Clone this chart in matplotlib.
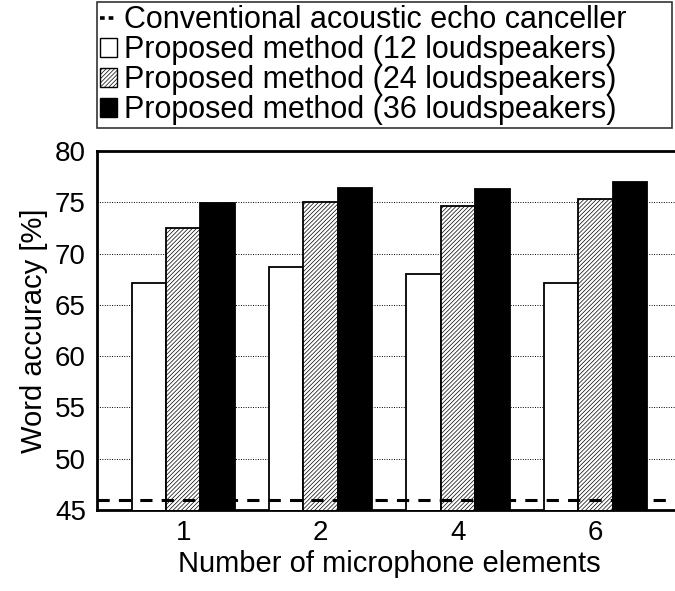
import numpy as np
import matplotlib
matplotlib.use('Agg')
import matplotlib.pyplot as plt
from matplotlib.lines import Line2D
from matplotlib.patches import Patch

plt.rcParams['font.family'] = 'Liberation Sans'
plt.rcParams['hatch.linewidth'] = 0.5

# microphone element counts on the x axis
mics = ['1', '2', '4', '6']
# word accuracy [%] for each loudspeaker count
acc_12 = [67.1, 68.7, 68.0, 67.1]
acc_24 = [72.5, 75.0, 74.6, 75.3]
acc_36 = [74.9, 76.4, 76.3, 77.0]
# conventional echo canceller baseline
acc_conv = 46.0

x = np.arange(len(mics))
w = 0.25

fig = plt.figure(figsize=(6.75, 5.91), dpi=100)
# axes runs off the right edge of the figure, so no right spine shows
ax = fig.add_axes([97/675, 1 - 510/591, 585/675, 359/591])

ax.bar(x - w, acc_12, w, color='white', edgecolor='black',
       linewidth=1.3, zorder=3)
ax.bar(x, acc_24, w, color='white', edgecolor='black', hatch='////////',
       linewidth=1.3, zorder=3)
ax.bar(x + w, acc_36, w, color='black', edgecolor='black',
       linewidth=1.3, zorder=3)
ax.axhline(acc_conv, color='black', linestyle=(0, (4, 3)), linewidth=2.2,
           zorder=4)

ax.set_xlim(-0.627, 3.63)
ax.set_ylim(45, 80)
ax.set_yticks(np.arange(45, 81, 5))
ax.set_xticks(x)
ax.set_xticklabels(mics)
ax.tick_params(length=0, labelsize=20)
ax.tick_params(axis='y', pad=8)
ax.tick_params(axis='x', pad=7)
ax.yaxis.grid(True, linestyle=(0, (1, 1.5)), color='black', linewidth=0.7,
              zorder=0)
ax.set_axisbelow(True)
for s in ['left', 'top', 'bottom', 'right']:
    ax.spines[s].set_linewidth(2)

ax.set_xlabel('Number of microphone elements', fontsize=21, labelpad=3)
ax.set_ylabel('Word accuracy [%]', fontsize=21, labelpad=5)

handles = [
    Line2D([], [], color='black', linestyle=(0, (1.3, 1.1)), linewidth=2.6),
    Patch(facecolor='white', edgecolor='black', linewidth=1),
    Patch(facecolor='white', edgecolor='black', hatch='////////', linewidth=1),
    Patch(facecolor='black', edgecolor='black', linewidth=1),
]
labels = ['Conventional acoustic echo canceller',
          'Proposed method (12 loudspeakers)',
          'Proposed method (24 loudspeakers)',
          'Proposed method (36 loudspeakers)']
# legend box stretched across the width above the axes
leg = fig.legend(handles, labels, loc='upper left',
                 bbox_to_anchor=(97/675, 1 - 2/591, 575/675, 0.0),
                 mode='expand', fontsize=22,
                 frameon=True, fancybox=False, edgecolor='black',
                 handlelength=0.55, handleheight=0.6, handletextpad=0.25,
                 labelspacing=0.0, borderpad=0.1, borderaxespad=0)
leg.get_frame().set_linewidth(1.2)

fig.savefig('out.png', dpi=100)
